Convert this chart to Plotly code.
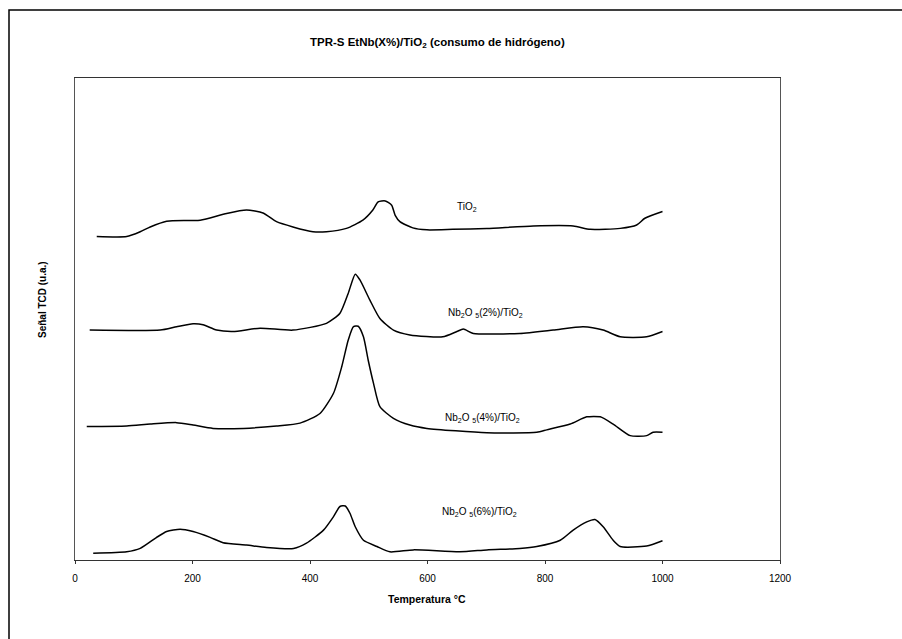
import plotly.graph_objects as go

# Temperature (°C) and TCD signal (arbitrary units)
t_tio2 = [37, 88, 111, 128, 156, 213, 258, 292, 320, 343, 371, 405, 428, 462, 490, 507, 516, 528, 539, 545, 553, 575, 599, 643, 701, 780, 848, 877, 928, 956, 970, 1000]
s_tio2 = [67.1, 67.1, 68.1, 69.1, 70.3, 70.5, 71.9, 72.6, 72.0, 70.2, 69.1, 68.1, 68.1, 68.8, 70.5, 72.6, 74.3, 74.5, 73.6, 71.5, 70.2, 68.9, 68.5, 68.6, 68.8, 69.3, 69.3, 68.6, 68.8, 69.5, 70.9, 72.3]

t_nb2 = [25, 145, 173, 201, 218, 241, 269, 315, 371, 428, 451, 465, 477, 485, 502, 519, 542, 570, 626, 650, 661, 678, 757, 814, 865, 899, 928, 973, 1000]
s_nb2 = [47.7, 47.7, 48.4, 49.0, 48.8, 47.7, 47.4, 48.1, 47.7, 49.1, 51.2, 55.3, 59.3, 58.1, 53.9, 50.1, 47.7, 46.7, 46.3, 47.4, 47.9, 47.0, 47.0, 47.7, 48.4, 47.7, 46.3, 46.3, 47.4]

t_nb4 = [20, 88, 128, 173, 201, 235, 287, 343, 383, 417, 440, 454, 465, 474, 482, 491, 499, 508, 519, 542, 570, 599, 701, 786, 803, 843, 871, 894, 916, 945, 973, 984, 1000]
s_nb4 = [27.7, 27.8, 28.2, 28.5, 28.0, 27.3, 27.3, 27.8, 28.4, 30.4, 34.6, 40.1, 45.6, 48.4, 48.5, 46.3, 41.5, 36.7, 31.8, 29.4, 28.0, 27.3, 26.4, 26.5, 27.0, 28.2, 29.7, 29.7, 28.2, 25.8, 25.8, 26.5, 26.5]

t_nb6 = [31, 88, 111, 139, 156, 179, 201, 230, 252, 292, 326, 372, 394, 423, 440, 451, 460, 468, 477, 491, 514, 536, 576, 655, 701, 757, 786, 826, 848, 871, 885, 899, 916, 928, 973, 1000]
s_nb6 = [1.4, 1.7, 2.4, 4.7, 5.9, 6.4, 5.9, 4.7, 3.6, 3.1, 2.6, 2.4, 3.5, 6.2, 9.0, 11.1, 11.2, 9.7, 6.9, 4.1, 2.8, 1.7, 2.1, 1.7, 2.1, 2.4, 2.8, 4.1, 6.2, 7.9, 8.4, 6.9, 4.1, 2.8, 2.9, 4.0]

series = [
    ("TiO2", t_tio2, s_tio2),
    ("Nb2O5(2%)/TiO2", t_nb2, s_nb2),
    ("Nb2O5(4%)/TiO2", t_nb4, s_nb4),
    ("Nb2O5(6%)/TiO2", t_nb6, s_nb6),
]

label_text = ["TiO<sub>2</sub>",
              "Nb<sub>2</sub>O <sub>5</sub>(2%)/TiO<sub>2</sub>",
              "Nb<sub>2</sub>O <sub>5</sub>(4%)/TiO<sub>2</sub>",
              "Nb<sub>2</sub>O <sub>5</sub>(6%)/TiO<sub>2</sub>"]
label_t = [667, 698, 693, 688]
label_s = [73.2, 51.2, 29.5, 10.0]

x_ticks = [0, 200, 400, 600, 800, 1000, 1200]

FONT = "Liberation Sans, Arial, sans-serif"

fig = go.Figure()
for name, t, s in series:
    fig.add_trace(go.Scatter(x=t, y=s, mode="lines", name=name,
                             line=dict(color="black", width=1.5, shape="spline", smoothing=0.6),
                             showlegend=False))

for txt, xt, ys in zip(label_text, label_t, label_s):
    fig.add_annotation(x=xt, y=ys, text=txt, showarrow=False,
                       xanchor="center", yanchor="middle",
                       font=dict(family=FONT, size=10, color="black"))

# Title
fig.add_annotation(xref="paper", yref="paper", x=(437 - 75) / 705, y=(560 - 43) / 482,
                   xanchor="center", yanchor="middle",
                   text="<b>TPR-S EtNb(X%)/TiO<sub>2</sub> (consumo de hidrógeno)</b>",
                   showarrow=False, font=dict(family=FONT, size=11.5, color="black"))
# y axis title
fig.add_annotation(xref="paper", yref="paper", x=(42 - 75) / 705, y=(560 - 300) / 482,
                   xanchor="center", yanchor="middle",
                   text="<b>Señal TCD (u.a.)</b>", textangle=-90, showarrow=False,
                   font=dict(family=FONT, size=10, color="black"))
# x axis title
fig.add_annotation(xref="paper", yref="paper", x=(427 - 75) / 705, y=(560 - 599) / 482,
                   xanchor="center", yanchor="middle",
                   text="<b>Temperatura °C</b>", showarrow=False,
                   font=dict(family="Liberation Sans Narrow, " + FONT, size=10.5, color="black"))

# Outer frame
fig.add_shape(type="rect", xref="paper", yref="paper",
              x0=(9 - 75) / 705, x1=(905 - 75) / 705,
              y0=(560 - 645) / 482, y1=(560 - 10) / 482,
              line=dict(color="black", width=1.5))

fig.update_xaxes(range=[0, 1200], tickvals=x_ticks, ticktext=[str(v) for v in x_ticks],
                 showgrid=False, zeroline=False, showline=True, linecolor="#333",
                 linewidth=1, mirror=True, ticks="outside", ticklen=3, tickcolor="#333",
                 ticklabelstandoff=6,
                 tickfont=dict(family=FONT, size=10, color="black"))
fig.update_yaxes(range=[0, 100], showticklabels=False, showgrid=False, zeroline=False,
                 showline=True, linecolor="#555", linewidth=1, mirror=True, ticks="")

fig.update_layout(width=902, height=639,
                  margin=dict(l=75, r=122, t=78, b=79),
                  paper_bgcolor="white", plot_bgcolor="white",
                  font=dict(family=FONT))

fig.write_html("out.html")
